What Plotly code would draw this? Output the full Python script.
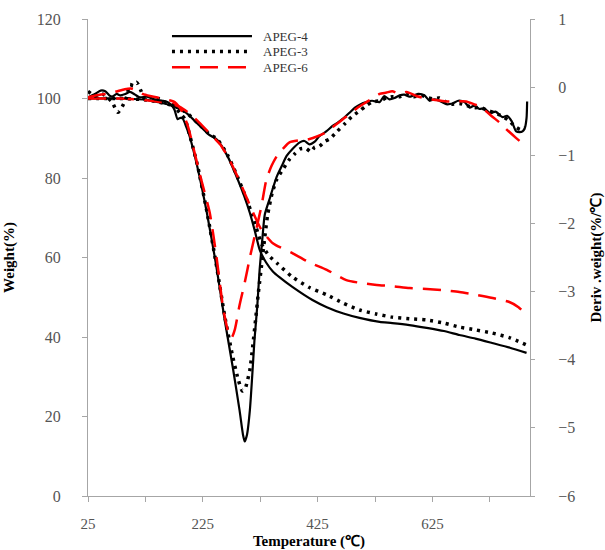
import plotly.graph_objects as go

# ---------------- data ----------------
# TG curves (left axis, weight %)
tg4_T = [25, 80, 130, 173, 195, 215, 235, 250, 268, 284, 297, 307, 316, 324, 335, 347, 359, 381, 416, 441, 470, 498, 533, 555, 585, 615, 645, 672, 700, 729, 760, 789]
tg4_w = [100, 100, 99.6, 98.1, 96.5, 93.8, 91, 89.6, 85.5, 80.3, 75.5, 71.2, 66.5, 62, 58.8, 56.5, 55, 52.6, 49.3, 47.5, 45.9, 44.8, 43.8, 43.5, 43, 42.3, 41.5, 40.5, 39.6, 38.5, 37.3, 36.0]

tg3_T = [25, 80, 130, 173, 195, 215, 235, 250, 268, 284, 297, 308, 318, 328, 340, 354, 381, 410, 441, 470, 498, 527, 555, 585, 615, 645, 672, 700, 729, 760, 789]
tg3_w = [100, 100, 99.6, 98.2, 96.6, 94, 91.2, 89.8, 85.8, 80.8, 76.2, 72, 67.5, 63.2, 60.5, 58.6, 55.1, 52.5, 50.6, 48.5, 46.8, 45.8, 45.0, 44.6, 44.3, 43.5, 42.5, 41.8, 41.0, 39.8, 38.0]

tg6_T = [25, 80, 130, 175, 195, 215, 235, 255, 270, 285, 300, 312, 327, 347, 381, 410, 441, 475, 500, 528, 555, 585, 615, 642, 672, 702, 730, 759, 775, 789]
tg6_w = [100, 100, 99.5, 98.5, 97, 94.5, 91.5, 88.5, 85, 80.5, 75.5, 71.5, 67, 63.6, 61.1, 58.8, 56.9, 54.3, 53.6, 53.1, 52.8, 52.3, 52.1, 51.8, 51.3, 50.6, 49.8, 48.8, 47.5, 45.5]

# DTG curves (right axis, %/°C)
dtg4_T = [25, 37, 47, 55, 62, 67, 75, 81, 90, 98, 107, 115, 128, 141, 155, 164, 172, 176, 181, 186, 190, 196, 202, 215, 232, 248, 263, 277, 289, 295, 298, 302, 307, 311, 315, 320, 324, 329, 333, 341, 354, 363, 371, 382, 394, 402, 411, 420, 428, 440, 451, 460, 468, 480, 490, 500, 510, 520, 533, 541, 550, 559, 568, 576, 585, 590, 600, 611, 620, 628, 637, 649, 660, 670, 681, 690, 698, 707, 715, 725, 735, 747, 755, 763, 771, 777, 782, 786, 789, 790]
dtg4_v = [-0.15, -0.10, -0.05, -0.06, -0.12, -0.14, -0.10, -0.12, -0.10, -0.07, -0.11, -0.15, -0.14, -0.18, -0.20, -0.22, -0.28, -0.34, -0.47, -0.45, -0.46, -0.58, -0.72, -1.15, -1.84, -2.6, -3.41, -4.1, -4.74, -5.1, -5.2, -5.1, -4.74, -4.25, -3.71, -3.2, -2.68, -2.2, -1.87, -1.65, -1.31, -1.15, -1.01, -0.9, -0.81, -0.79, -0.84, -0.8, -0.72, -0.65, -0.57, -0.52, -0.47, -0.38, -0.3, -0.25, -0.22, -0.2, -0.22, -0.13, -0.18, -0.16, -0.12, -0.11, -0.14, -0.13, -0.1, -0.12, -0.2, -0.18, -0.2, -0.25, -0.24, -0.2, -0.22, -0.3, -0.27, -0.32, -0.31, -0.38, -0.36, -0.44, -0.42, -0.5, -0.65, -0.66, -0.65, -0.6, -0.45, -0.21]

dtg3_T = [25, 37, 50, 60, 67, 77, 85, 92, 98, 104, 110, 117, 124, 133, 141, 150, 159, 168, 176, 185, 194, 202, 215, 232, 248, 263, 277, 287, 294, 299, 303, 307, 312, 317, 322, 328, 333, 338, 346, 354, 365, 376, 385, 394, 405, 413, 420, 428, 437, 446, 459, 472, 485, 498, 510, 520, 533, 545, 555, 568, 580, 593, 605, 615, 625, 637, 649, 660, 672, 685, 698, 710, 720, 732, 745, 757, 768, 778, 786]
dtg3_v = [-0.06, -0.13, -0.1, -0.16, -0.22, -0.37, -0.28, -0.15, 0.04, 0.02, 0.07, -0.05, -0.18, -0.15, -0.18, -0.17, -0.22, -0.25, -0.29, -0.38, -0.47, -0.7, -1.12, -1.82, -2.58, -3.35, -3.95, -4.3, -4.46, -4.42, -4.3, -4.15, -3.8, -3.41, -3.0, -2.57, -2.2, -1.87, -1.55, -1.35, -1.2, -1.06, -0.98, -0.91, -0.9, -0.95, -0.88, -0.87, -0.8, -0.76, -0.65, -0.54, -0.43, -0.35, -0.27, -0.22, -0.2, -0.16, -0.14, -0.14, -0.1, -0.14, -0.12, -0.15, -0.17, -0.16, -0.22, -0.25, -0.24, -0.27, -0.3, -0.3, -0.34, -0.37, -0.42, -0.48, -0.57, -0.62, -0.6]

dtg6_T = [25, 40, 55, 72, 89, 100, 107, 120, 133, 146, 159, 170, 176, 183, 190, 200, 208, 222, 237, 249, 260, 268, 275, 281, 289, 298, 307, 315, 327, 336, 345, 354, 365, 376, 393, 411, 425, 441, 452, 463, 480, 495, 510, 524, 533, 545, 555, 568, 580, 597, 615, 630, 649, 665, 684, 697, 707, 718, 729, 742, 754, 770, 788]
dtg6_v = [-0.15, -0.12, -0.1, -0.07, -0.03, -0.02, -0.04, -0.1, -0.13, -0.15, -0.18, -0.2, -0.22, -0.28, -0.37, -0.6, -0.87, -1.35, -1.84, -2.5, -3.22, -3.55, -3.68, -3.55, -3.2, -2.87, -2.5, -2.2, -1.75, -1.35, -1.15, -1.01, -0.9, -0.81, -0.78, -0.76, -0.72, -0.66, -0.58, -0.51, -0.4, -0.3, -0.22, -0.15, -0.1, -0.08, -0.06, -0.1, -0.07, -0.13, -0.17, -0.19, -0.21, -0.21, -0.21, -0.25, -0.28, -0.35, -0.43, -0.52, -0.62, -0.74, -0.87]

series_names = ["APEG-4", "APEG-3", "APEG-6"]
x_tickvals = [25, 125, 225, 325, 425, 525, 625, 725]
x_ticktext = ["25", "", "225", "", "425", "", "625", ""]
y_left_ticks = [0, 20, 40, 60, 80, 100, 120]
y_right_ticks = [-6, -5, -4, -3, -2, -1, 0, 1]

# ---------------- styles ----------------
BLACK = "#000000"
RED = "#ff0000"
SERIF = "Liberation Serif, Times New Roman, serif"
TICKCOL = "#555555"
AXCOL = "#a6a6a6"

sty = {
    "APEG-4": dict(color=BLACK, width=2.2, dash="solid"),
    "APEG-3": dict(color=BLACK, width=3.5, dash="3px,5px"),
    "APEG-6": dict(color=RED, width=2.5, dash="18px,10px"),
}

fig = go.Figure()
for name, T, w in [("APEG-4", tg4_T, tg4_w), ("APEG-3", tg3_T, tg3_w), ("APEG-6", tg6_T, tg6_w)]:
    fig.add_trace(go.Scatter(x=T, y=w, mode="lines", name=name, line=dict(shape="spline", smoothing=0.6, **sty[name]),
                             showlegend=False, yaxis="y"))
for name, T, v in [("APEG-4", dtg4_T, dtg4_v), ("APEG-3", dtg3_T, dtg3_v), ("APEG-6", dtg6_T, dtg6_v)]:
    fig.add_trace(go.Scatter(x=T, y=v, mode="lines", name=name, line=dict(shape="spline", smoothing=0.6, **sty[name]),
                             showlegend=False, yaxis="y2"))

# manual legend (compact rows like the original)
leg_rows = [0.964, 0.932, 0.899]
for name, yy in zip(series_names, leg_rows):
    s = sty[name]
    fig.add_shape(type="line", xref="paper", yref="paper", x0=0.19, x1=0.371, y0=yy, y1=yy,
                  line=dict(color=s["color"], width=s["width"], dash=s["dash"]))
    fig.add_annotation(xref="paper", yref="paper", x=0.392, y=yy, text=name, showarrow=False,
                       xanchor="left", yanchor="middle", font=dict(family=SERIF, size=13, color="#333333"))

fig.update_layout(
    width=605, height=550,
    margin=dict(l=88, r=75, t=19, b=54),
    paper_bgcolor="white", plot_bgcolor="white",
    showlegend=False,
    xaxis=dict(range=[25, 795], tickvals=x_tickvals, ticktext=x_ticktext, automargin=False,
               showgrid=False, zeroline=False, showline=True, linecolor=AXCOL, linewidth=1,
               ticks="outside", ticklen=5, tickcolor=AXCOL, ticklabelstandoff=9,
               tickfont=dict(family=SERIF, size=15, color=TICKCOL),
               title=dict(text="<b>Temperature (℃)</b>", font=dict(family=SERIF, size=15, color="#000"), standoff=5)),
    yaxis=dict(range=[0, 120], tickvals=y_left_ticks, automargin=False,
               showgrid=False, zeroline=False, showline=True, linecolor=AXCOL, linewidth=1,
               ticks="outside", ticklen=5, tickcolor=AXCOL, ticklabelstandoff=18,
               tickfont=dict(family=SERIF, size=16, color=TICKCOL),
               title=dict(text="<b>Weight(%)</b>", font=dict(family=SERIF, size=15, color="#000"), standoff=18)),
    yaxis2=dict(range=[-6, 1], tickvals=y_right_ticks, overlaying="y", side="right", automargin=False,
                showgrid=False, zeroline=False, showline=True, linecolor=AXCOL, linewidth=1,
                ticks="outside", ticklen=4, tickcolor=AXCOL, ticklabelstandoff=20,
                tickfont=dict(family=SERIF, size=16, color=TICKCOL),
                title=dict(text="<b>Deriv .weight(%/℃)</b>", font=dict(family=SERIF, size=15, color="#000"), standoff=20)),
)

fig.write_html("out.html")
